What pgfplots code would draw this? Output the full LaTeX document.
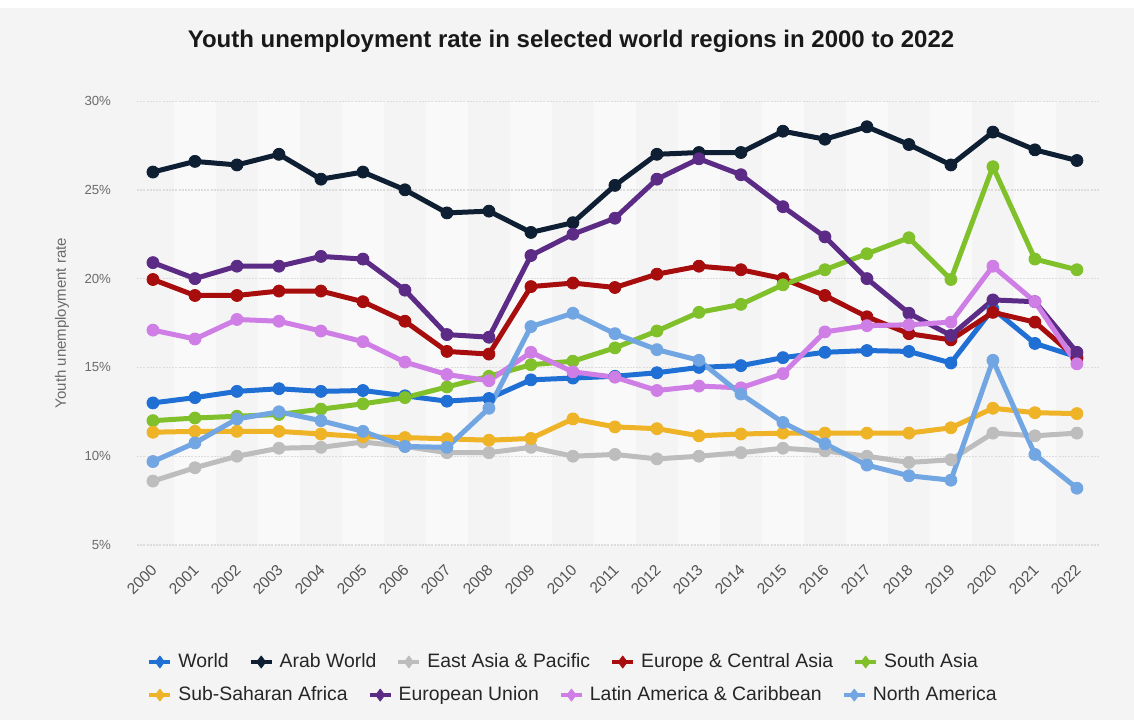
\documentclass[border=0pt]{standalone}
\usepackage{pgfplots}
\pgfplotsset{compat=1.18}
\usepackage{fontspec}
\setmainfont{Liberation Sans}

\definecolor{bg}{HTML}{F4F4F4}
\definecolor{stripe}{HTML}{F9F9F9}
\definecolor{gridc}{HTML}{DCDCDC}
\definecolor{labc}{HTML}{6B6B6B}
\definecolor{xlabc}{HTML}{555555}
\definecolor{cWorld}{HTML}{1F6FD4}
\definecolor{cArab}{HTML}{0F1F33}
\definecolor{cEAP}{HTML}{BDBDBD}
\definecolor{cECA}{HTML}{A80D0D}
\definecolor{cSA}{HTML}{80C02A}
\definecolor{cSSA}{HTML}{EFB327}
\definecolor{cEU}{HTML}{5B2B86}
\definecolor{cLAC}{HTML}{CF7EE6}
\definecolor{cNA}{HTML}{72A6E2}

\pgfplotsset{
  series/.style={color=#1, line width=2.5pt, line join=round, mark=*, mark size=3pt,
    mark options={solid, line width=0.4pt}},
  legstyle/.style={
    legend style={draw=none, fill=none, inner sep=0pt, anchor=west,
      font=\fontsize{9.7}{11}\selectfont, text=black!85, legend columns=-1,
      /tikz/every even column/.append style={column sep=8pt},
      /tikz/every odd column/.append style={column sep=1pt}},
    legend image code/.code={
      \draw[##1, mark repeat=2, mark phase=2, mark=diamond*, mark size=3pt, line width=2pt]
        plot coordinates {(0pt,0pt) (5.25pt,0pt) (10.5pt,0pt)};}
  },
  chartbox/.style={at={(0,0)}, anchor=south west, scale only axis,
    width=481.5pt, height=222pt, xmin=1999.62, xmax=2022.55, ymin=5, ymax=30}
}

\begin{document}
\begin{tikzpicture}
\path[use as bounding box] (-68.5pt,-87.5pt) rectangle (498.5pt,272.5pt);
\fill[bg] (-68.5pt,-87.5pt) rectangle (498.5pt,268.5pt);
\fill[white] (-68.5pt,268.5pt) rectangle (498.5pt,272.5pt);
\node[font=\bfseries\fontsize{12}{14}\selectfont, text=black!90] at (217pt,252pt)
  {Youth unemployment rate in selected world regions in 2000 to 2022};

\begin{axis}[chartbox, legstyle,
  axis line style={draw=none},
  major tick length=0pt,
  xtick={2000,2001,...,2022},
  ytick={5,10,...,30},
  /pgf/number format/1000 sep={},
  /pgf/number format/assume math mode=true,
  yticklabel={\pgfmathprintnumber{\tick}\%},
  yticklabel style={font=\fontsize{6.6}{8}\selectfont, text=labc, xshift=-9.5pt},
  xticklabel style={font=\fontsize{7.8}{9}\selectfont, text=xlabc,
    anchor=north east, inner sep=1pt, xshift=-1.4pt, yshift=-7.5pt, rotate=45},
  ylabel={Youth unemployment rate},
  ylabel style={at={(axis description cs:-0.078,0.5)}, anchor=center,
    font=\fontsize{7.5}{9}\selectfont, text=labc},
  legend style={at={(axis description cs:0.0104,-0.2635)}},
]
% background stripes and grid
\pgfplotsinvokeforeach{2001,2003,2005,2007,2009,2011,2013,2015,2017,2019,2021}{
  \fill[stripe] (axis cs:#1-0.5,5) rectangle (axis cs:#1+0.5,30);
}
\pgfplotsinvokeforeach{5,10,15,20,25,30}{
  \draw[gridc, line width=0.7pt, dash pattern=on 1pt off 0.6pt]
    (axis cs:1999.62,#1) -- (axis cs:2022.55,#1);
}

\addplot[series=cWorld] coordinates {
(2000,13.0)(2001,13.3)(2002,13.65)(2003,13.8)(2004,13.65)(2005,13.7)(2006,13.4)(2007,13.1)
(2008,13.25)(2009,14.3)(2010,14.4)(2011,14.5)(2012,14.7)(2013,15.0)(2014,15.1)(2015,15.55)
(2016,15.85)(2017,15.95)(2018,15.9)(2019,15.25)(2020,18.3)(2021,16.35)(2022,15.6)};
\addlegendentry{World}

\addplot[series=cArab] coordinates {
(2000,26.0)(2001,26.6)(2002,26.4)(2003,27.0)(2004,25.6)(2005,26.0)(2006,25.0)(2007,23.7)
(2008,23.8)(2009,22.6)(2010,23.15)(2011,25.25)(2012,27.0)(2013,27.1)(2014,27.1)(2015,28.3)
(2016,27.85)(2017,28.55)(2018,27.55)(2019,26.4)(2020,28.25)(2021,27.25)(2022,26.65)};
\addlegendentry{Arab World}

\addplot[series=cEAP] coordinates {
(2000,8.6)(2001,9.35)(2002,10.0)(2003,10.45)(2004,10.5)(2005,10.8)(2006,10.55)(2007,10.2)
(2008,10.2)(2009,10.5)(2010,10.0)(2011,10.1)(2012,9.85)(2013,10.0)(2014,10.2)(2015,10.45)
(2016,10.3)(2017,10.0)(2018,9.65)(2019,9.8)(2020,11.3)(2021,11.15)(2022,11.3)};
\addlegendentry{East Asia \& Pacific}

\addplot[series=cECA] coordinates {
(2000,19.95)(2001,19.05)(2002,19.05)(2003,19.3)(2004,19.3)(2005,18.7)(2006,17.6)(2007,15.9)
(2008,15.75)(2009,19.55)(2010,19.75)(2011,19.5)(2012,20.25)(2013,20.7)(2014,20.5)(2015,20.0)
(2016,19.05)(2017,17.85)(2018,16.9)(2019,16.55)(2020,18.1)(2021,17.55)(2022,15.5)};
\addlegendentry{Europe \& Central Asia}

\addplot[series=cSA] coordinates {
(2000,12.0)(2001,12.15)(2002,12.25)(2003,12.35)(2004,12.65)(2005,12.95)(2006,13.3)(2007,13.9)
(2008,14.5)(2009,15.15)(2010,15.35)(2011,16.1)(2012,17.05)(2013,18.1)(2014,18.55)(2015,19.65)
(2016,20.5)(2017,21.4)(2018,22.3)(2019,19.95)(2020,26.3)(2021,21.1)(2022,20.5)};
\addlegendentry{South Asia}

\addplot[series=cSSA, forget plot] coordinates {
(2000,11.35)(2001,11.4)(2002,11.4)(2003,11.4)(2004,11.25)(2005,11.1)(2006,11.05)(2007,10.98)
(2008,10.9)(2009,11.0)(2010,12.1)(2011,11.65)(2012,11.55)(2013,11.15)(2014,11.25)(2015,11.3)
(2016,11.3)(2017,11.3)(2018,11.3)(2019,11.6)(2020,12.7)(2021,12.45)(2022,12.4)};

\addplot[series=cEU, forget plot] coordinates {
(2000,20.9)(2001,20.0)(2002,20.7)(2003,20.7)(2004,21.25)(2005,21.1)(2006,19.35)(2007,16.85)
(2008,16.7)(2009,21.3)(2010,22.5)(2011,23.4)(2012,25.6)(2013,26.75)(2014,25.85)(2015,24.05)
(2016,22.35)(2017,20.0)(2018,18.05)(2019,16.8)(2020,18.8)(2021,18.7)(2022,15.85)};

\addplot[series=cLAC, forget plot] coordinates {
(2000,17.1)(2001,16.6)(2002,17.7)(2003,17.6)(2004,17.05)(2005,16.45)(2006,15.3)(2007,14.6)
(2008,14.25)(2009,15.85)(2010,14.75)(2011,14.45)(2012,13.7)(2013,13.95)(2014,13.85)(2015,14.65)
(2016,17.0)(2017,17.35)(2018,17.4)(2019,17.55)(2020,20.7)(2021,18.7)(2022,15.2)};

\addplot[series=cNA, forget plot] coordinates {
(2000,9.7)(2001,10.75)(2002,12.1)(2003,12.5)(2004,12.0)(2005,11.4)(2006,10.55)(2007,10.5)
(2008,12.7)(2009,17.3)(2010,18.05)(2011,16.9)(2012,16.0)(2013,15.4)(2014,13.5)(2015,11.9)
(2016,10.7)(2017,9.5)(2018,8.9)(2019,8.65)(2020,15.4)(2021,10.1)(2022,8.2)};
\end{axis}

% second legend row
\begin{axis}[chartbox, legstyle, hide axis,
  legend style={at={(axis description cs:0.0104,-0.338)}}]
\addplot[draw=none, forget plot] coordinates {(2000,5) (2022,30)};
\addlegendimage{series=cSSA}\addlegendentry{Sub-Saharan Africa}
\addlegendimage{series=cEU}\addlegendentry{European Union}
\addlegendimage{series=cLAC}\addlegendentry{Latin America \& Caribbean}
\addlegendimage{series=cNA}\addlegendentry{North America}
\end{axis}
\end{tikzpicture}
\end{document}
